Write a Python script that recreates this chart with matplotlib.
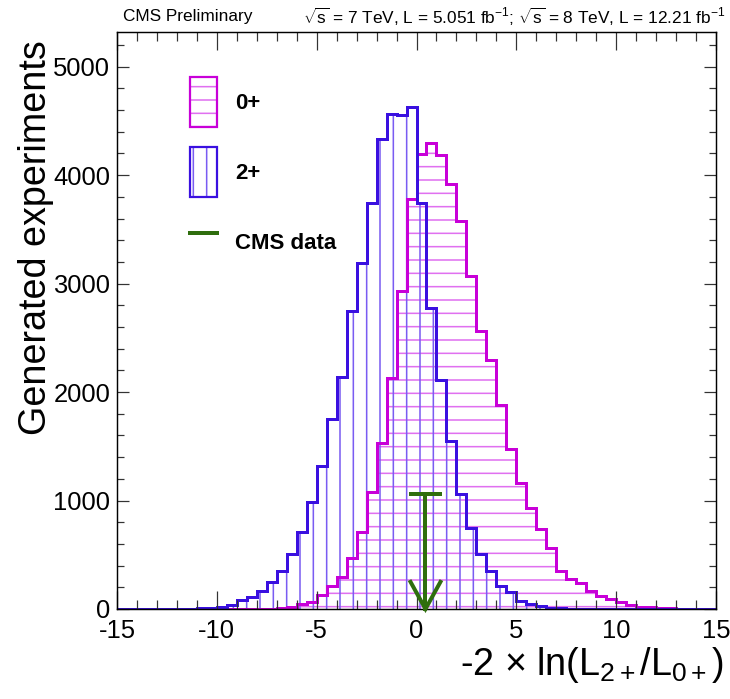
import numpy as np
import matplotlib
matplotlib.use("Agg")
import matplotlib.pyplot as plt
from matplotlib.patches import Patch
from matplotlib.lines import Line2D
from matplotlib.legend_handler import HandlerTuple
from matplotlib.ticker import MultipleLocator

plt.rcParams['font.family'] = ['Liberation Sans', 'DejaVu Sans']
plt.rcParams['mathtext.fontset'] = 'custom'
plt.rcParams['mathtext.rm'] = 'Liberation Sans'
plt.rcParams['mathtext.it'] = 'Liberation Sans:italic'
plt.rcParams['mathtext.bf'] = 'Liberation Sans:bold'
plt.rcParams['axes.unicode_minus'] = False
plt.rcParams['hatch.linewidth'] = 1.4

# binning of the toy test statistic
edges = np.arange(-15, 15.001, 0.5)

# 0+ hypothesis pseudo-experiments (60 bins)
counts_0p = [0] * 14 + [
    1, 3, 6, 18, 45, 66, 125, 208, 298, 466,
    710, 1081, 1527, 2132, 2931, 3776, 4197, 4298, 4188, 3917,
    3582, 3069, 2562, 2295, 1885, 1478, 1164, 934, 737, 565,
    353, 274, 237, 163, 115, 89, 67, 32, 18, 14,
    8, 6, 4, 3, 1, 1]

# 2+ hypothesis pseudo-experiments (60 bins)
counts_2p = [0] * 4 + [
    1, 1, 2, 4, 6, 11, 19, 34, 79, 110,
    165, 246, 353, 510, 710, 989, 1320, 1751, 2141, 2746,
    3186, 3745, 4332, 4568, 4559, 4627, 3739, 2777, 2111, 1545,
    1057, 749, 510, 350, 216, 152, 78, 44, 23, 12,
    7, 4, 2, 1] + [1] + [0] * 11

data_value = 0.45
arrow_top = 1060

MAG = '#c800d8'
MAG_H = '#e070f0'
BLUE = '#3a10e0'
BLUE_H = '#7a5cf2'
GREEN = '#2f6e0e'

fig = plt.figure(figsize=(9.125, 8.7375), dpi=80)
ax = fig.add_axes([0.1603, 0.1288, 0.8205, 0.8254])

# hatched fills
ax.stairs(counts_0p, edges, fill=True, facecolor='none', edgecolor=MAG_H,
          linewidth=0, hatch='-')
ax.stairs(counts_2p, edges, fill=True, facecolor='none', edgecolor=BLUE_H,
          linewidth=0, hatch='|')
# outlines
ax.stairs(counts_0p, edges, baseline=0, color=MAG, linewidth=2.7)
ax.stairs(counts_2p, edges, baseline=0, color=BLUE, linewidth=2.7)

# observed value arrow
ax.plot([data_value, data_value], [arrow_top, 0], color=GREEN, lw=3.6,
        clip_on=False, zorder=5)
ax.plot([data_value - 0.75, data_value + 0.75], [arrow_top, arrow_top],
        color=GREEN, lw=3.6, zorder=5)
ax.plot([data_value - 0.75, data_value, data_value + 0.75], [250, 0, 250],
        color=GREEN, lw=3.6, clip_on=False, zorder=5, solid_joinstyle='miter')

ax.set_xlim(-15, 15)
ax.set_ylim(0, 5320)
ax.xaxis.set_major_locator(MultipleLocator(5))
ax.xaxis.set_minor_locator(MultipleLocator(1))
ax.yaxis.set_major_locator(MultipleLocator(1000))
ax.yaxis.set_minor_locator(MultipleLocator(200))
ax.tick_params(which='both', direction='in', top=True, right=True,
               labelsize=23, width=1.1, color='#333333')
ax.tick_params(axis='x', which='major', length=16, pad=9)
ax.tick_params(axis='x', which='minor', length=8)
ax.tick_params(axis='y', which='major', length=11, pad=6)
ax.tick_params(axis='y', which='minor', length=6.5)
for sp in ax.spines.values():
    sp.set_linewidth(1.3)

ax.set_ylabel('Generated experiments', fontsize=34, loc='top')
ax.yaxis.set_label_coords(-0.106, 0.986)
ax.set_xlabel(r'-2 $\times$ ln(L$_{2+}$/L$_{0+}$)', fontsize=34, loc='right')
ax.xaxis.set_label_coords(1.013, -0.062)

# legend
h0 = (Patch(facecolor='none', edgecolor=MAG_H, hatch='-', linewidth=0),
      Patch(facecolor='none', edgecolor=MAG, linewidth=2))
h2 = (Patch(facecolor='none', edgecolor=BLUE_H, hatch='|', linewidth=0),
      Patch(facecolor='none', edgecolor=BLUE, linewidth=2))
hd = Line2D([], [], color=GREEN, lw=3.6)
ax.legend([h0, h2, hd], ['0+', '2+', 'CMS data'],
          handler_map={tuple: HandlerTuple(ndivide=1, pad=0)},
          loc='upper left', bbox_to_anchor=(0.122, 0.922), frameon=False,
          borderpad=0, borderaxespad=0, handlelength=1.22, handleheight=3.1,
          handletextpad=0.8, labelspacing=0.9,
          prop={'weight': 'bold', 'size': 20})

fig.text(123 / 730, 1 - 17 / 699, 'CMS Preliminary', fontsize=15.5,
         va='center', ha='left')
fig.text(725 / 730, 1 - 17 / 699,
         r'$\sqrt{\mathrm{s}}$ = 7 TeV, L = 5.051 fb$^{-1}$; '
         r'$\sqrt{\mathrm{s}}$ = 8 TeV, L = 12.21 fb$^{-1}$',
         fontsize=15.5, va='center', ha='right')

fig.savefig('out.png', dpi=80)
